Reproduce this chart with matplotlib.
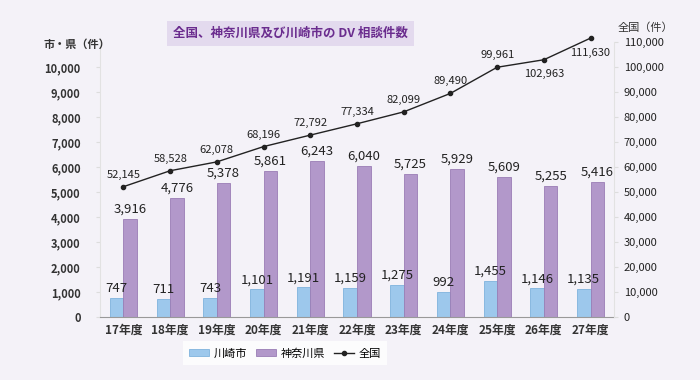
import matplotlib.pyplot as plt
import numpy as np

plt.rcParams['font.family'] = ['Noto Sans CJK JP', 'DejaVu Sans']

years = ["17年度", "18年度", "19年度", "20年度", "21年度", "22年度",
         "23年度", "24年度", "25年度", "26年度", "27年度"]
kawasaki = [747, 711, 743, 1101, 1191, 1159, 1275, 992, 1455, 1146, 1135]
kanagawa = [3916, 4776, 5378, 5861, 6243, 6040, 5725, 5929, 5609, 5255, 5416]
national = [52145, 58528, 62078, 68196, 72792, 77334, 82099, 89490, 99961, 102963, 111630]

bg = "#F4F2F8"
blue = "#9DC8EC"
purple = "#B298CA"

fig = plt.figure(figsize=(7, 3.8), dpi=100, facecolor=bg)
ax = fig.add_axes([0.143, 0.166, 0.734, 0.723])
ax.set_facecolor(bg)
x = np.arange(len(years))
w = 0.29
b1 = ax.bar(x - w / 2, kawasaki, w, color=blue, edgecolor="#7FB3DD", linewidth=0.6, label="川崎市")
b2 = ax.bar(x + w / 2, kanagawa, w, color=purple, edgecolor="#9A7DB5", linewidth=0.6, label="神奈川県")
for xi, v in zip(x - w / 2, kawasaki):
    ax.text(xi, v + 120, f"{v:,}", ha="center", va="bottom", fontsize=9.5, color="#222222")
for xi, v in zip(x + w / 2, kanagawa):
    ax.text(xi, v + 120, f"{v:,}", ha="center", va="bottom", fontsize=9.5, color="#222222")

ax.set_xlim(-0.5, len(years) - 0.5)
ax.set_ylim(0, 11000)
ax.set_yticks(range(0, 10001, 1000))
ax.set_yticklabels([f"{t:,}" for t in range(0, 10001, 1000)], fontsize=8, fontweight="bold", color="#333333")
ax.set_xticks(x)
ax.set_xticklabels(years, fontsize=8.5, fontweight="bold", color="#333333")
ax.tick_params(axis="x", length=0, pad=5)
ax.tick_params(axis="y", length=3, color="#DDDDDD", pad=11)
for s in ["top", "right"]:
    ax.spines[s].set_visible(False)
ax.spines["left"].set_color("#E2E2E2")
ax.spines["bottom"].set_color("#999999")

ax2 = ax.twinx()
ln, = ax2.plot(x, national, color="#222222", linewidth=1, marker="o", markersize=3,
               label="全国", clip_on=False)
for i, v in enumerate(national):
    if i == len(national) - 1:
        ax2.text(i, v - 3800, f"{v:,}", ha="center", va="top", fontsize=8, color="#222222")
    elif i == len(national) - 2:
        ax2.text(i, v - 3800, f"{v:,}", ha="center", va="top", fontsize=8, color="#222222")
    else:
        ax2.text(i, v + 2800, f"{v:,}", ha="center", va="bottom", fontsize=8, color="#222222")
ax2.set_ylim(0, 110000)
ax2.set_yticks(range(0, 110001, 10000))
ax2.set_yticklabels([f"{t:,}" for t in range(0, 110001, 10000)], fontsize=8, color="#222222")
ax2.tick_params(axis="y", length=3, color="#DDDDDD", pad=4)
for s in ["top", "left", "bottom"]:
    ax2.spines[s].set_visible(False)
ax2.spines["right"].set_color("#E2E2E2")

fig.text(0.11, 0.875, "市・県（件）", fontsize=8, fontweight="bold", ha="center", color="#333333")
fig.text(0.882, 0.928, "全国（件）", fontsize=8, ha="left", va="center", color="#333333")
fig.text(0.415, 0.912, "全国、神奈川県及び川崎市の DV 相談件数", fontsize=9, fontweight="bold",
         ha="center", va="center", color="#6A2C8E",
         bbox=dict(boxstyle="square,pad=0.45", facecolor="#E3DAEE", edgecolor="none"))

leg = fig.legend([b1, b2, ln], ["川崎市", "神奈川県", "全国"], loc="center", bbox_to_anchor=(0.407, 0.07),
                 ncol=3, frameon=True, fontsize=8, handlelength=1.8, handleheight=0.6,
                 columnspacing=0.8, handletextpad=0.4, borderpad=0.3)
leg.get_frame().set_facecolor("white")
leg.get_frame().set_edgecolor("none")
leg.get_frame().set_boxstyle("square")

plt.savefig("out.png", dpi=100, facecolor=bg)
